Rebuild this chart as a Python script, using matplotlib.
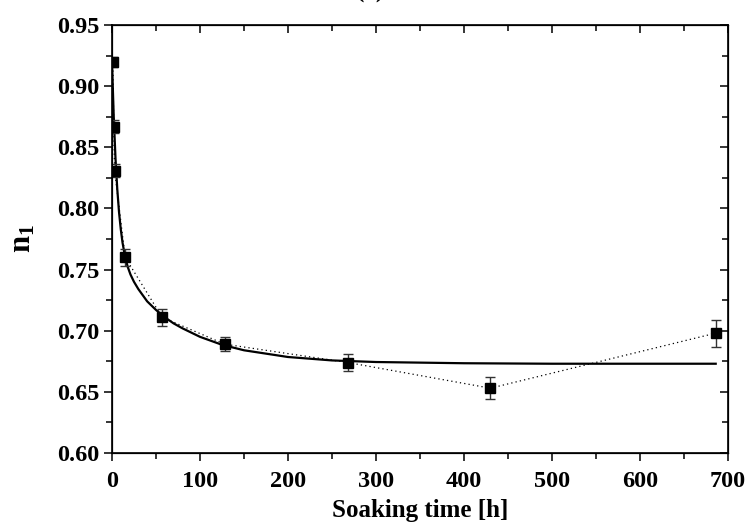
import matplotlib
matplotlib.use('Agg')
import matplotlib.pyplot as plt
from matplotlib.ticker import MultipleLocator

plt.rcParams['font.family'] = ['Liberation Serif', 'DejaVu Serif']
plt.rcParams['font.weight'] = 'bold'
plt.rcParams['mathtext.fontset'] = 'custom'
plt.rcParams['mathtext.rm'] = 'Liberation Serif'
plt.rcParams['mathtext.bf'] = 'Liberation Serif:bold'

# measured n1 vs soaking time
time_h = [1, 2, 3, 15, 57, 128, 268, 430, 686]
n1 = [0.920, 0.867, 0.831, 0.760, 0.711, 0.689, 0.674, 0.653, 0.698]
n1_err = [0.004, 0.005, 0.005, 0.007, 0.007, 0.006, 0.007, 0.009, 0.011]

# fitted curve, values
fit_t = [0, 2, 4, 6, 8, 10, 12, 15, 18, 21, 25, 30, 35, 40, 50, 60, 70, 80,
         100, 125, 150, 200, 250, 300, 400, 500, 600, 686]
fit_n1 = [0.920, 0.875, 0.841, 0.816, 0.797, 0.783, 0.772, 0.760, 0.752,
          0.746, 0.740, 0.734, 0.729, 0.724, 0.717, 0.711, 0.706, 0.702,
          0.695, 0.6885, 0.684, 0.6785, 0.6757, 0.6744, 0.6734, 0.673,
          0.673, 0.673]

fig = plt.figure(figsize=(7.48, 5.30), dpi=100)
ax = fig.add_axes([0.1497, 0.1453, 0.8236, 0.8075])

ax.plot(fit_t, fit_n1, color='black', lw=1.6, zorder=3)
ax.plot(time_h, n1, color='black', lw=0.9, ls=(0, (1, 2.5)), zorder=2)
ax.errorbar(time_h, n1, yerr=n1_err, fmt='s', color='black', ms=6.5,
            ecolor='#333333', elinewidth=1.0, capsize=3.5, capthick=1.0,
            zorder=4)

ax.set_xlim(0, 700)
ax.set_ylim(0.60, 0.95)
ax.xaxis.set_major_locator(MultipleLocator(100))
ax.xaxis.set_minor_locator(MultipleLocator(50))
ax.yaxis.set_major_locator(MultipleLocator(0.05))
ax.yaxis.set_minor_locator(MultipleLocator(0.025))
ax.yaxis.set_major_formatter(matplotlib.ticker.FormatStrFormatter('%.2f'))

ax.tick_params(which='both', direction='out', labelsize=17.5, width=1.1)
ax.tick_params(which='major', length=6)
ax.tick_params(axis='x', which='major', pad=7)
ax.tick_params(axis='y', which='major', pad=3)
ax.tick_params(which='minor', length=4)
for s in ax.spines.values():
    s.set_linewidth(1.2)

# mirrored ticks pointing inward on top and right
axt = ax.twiny()
axt.set_xlim(ax.get_xlim())
axt.xaxis.set_major_locator(MultipleLocator(100))
axt.xaxis.set_minor_locator(MultipleLocator(50))
axt.tick_params(which='both', direction='in', labeltop=False, width=1.1)
axt.tick_params(which='major', length=6)
axt.tick_params(which='minor', length=4)
axr = ax.twinx()
axr.set_ylim(ax.get_ylim())
axr.yaxis.set_major_locator(MultipleLocator(0.05))
axr.yaxis.set_minor_locator(MultipleLocator(0.025))
axr.tick_params(which='both', direction='in', labelright=False, width=1.1)
axr.tick_params(which='major', length=6)
axr.tick_params(which='minor', length=4)

ax.set_xlabel('Soaking time [h]', fontsize=18, fontweight='bold', labelpad=5)
ax.set_ylabel(r'$\mathbf{n_1}$', fontsize=22, labelpad=14)

fig.text(0.495, 1 - 3 / 530, '(a)', ha='center', va='bottom', fontsize=18,
         fontweight='bold')

fig.savefig('out.png', dpi=100)
